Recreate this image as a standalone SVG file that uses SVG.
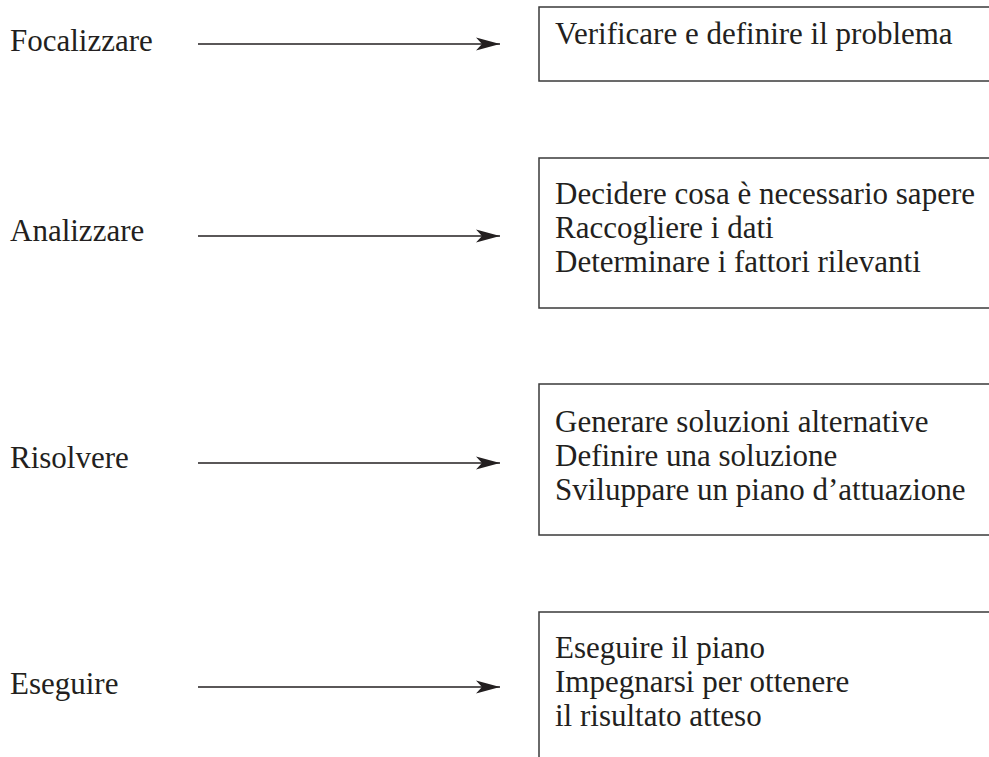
<svg xmlns="http://www.w3.org/2000/svg" width="989" height="757" viewBox="0 0 989 757">
<defs>
<style>
text{font-family:"Liberation Serif","Times New Roman",serif;font-size:31px;fill:#231f20}
.box{fill:none;stroke:#3a3a3a;stroke-width:1.5}
.conn{stroke:#231f20;stroke-width:1.6;fill:none}
</style>
<marker id="ah" markerWidth="26" markerHeight="16" refX="24" refY="8" orient="auto" markerUnits="userSpaceOnUse">
<path d="M0,1.5 L24,8 L0,14.5 L6,8 Z" fill="#231f20"/>
</marker>
</defs>
<rect width="989" height="757" fill="#fff"/>
<g id="connectors">
<line class="conn" x1="198" y1="44" x2="500" y2="44" marker-end="url(#ah)"/>
<line class="conn" x1="198" y1="236" x2="500" y2="236" marker-end="url(#ah)"/>
<line class="conn" x1="198" y1="463" x2="500" y2="463" marker-end="url(#ah)"/>
<line class="conn" x1="198" y1="687" x2="500" y2="687" marker-end="url(#ah)"/>
</g>
<g id="focalizzare"><text x="10" y="51">Focalizzare</text></g>
<g id="analizzare"><text x="10" y="241">Analizzare</text></g>
<g id="risolvere"><text x="10" y="468">Risolvere</text></g>
<g id="eseguire"><text x="10" y="694">Eseguire</text></g>
<g id="box1">
<rect class="box" x="539" y="7" width="460" height="74"/>
<text x="555" y="44">Verificare e definire il problema</text>
</g>
<g id="box2">
<rect class="box" x="539" y="158" width="460" height="150"/>
<text x="555" y="204">Decidere cosa è necessario sapere</text>
<text x="555" y="238">Raccogliere i dati</text>
<text x="555" y="272">Determinare i fattori rilevanti</text>
</g>
<g id="box3">
<rect class="box" x="539" y="384" width="460" height="151"/>
<text x="555" y="432">Generare soluzioni alternative</text>
<text x="555" y="466">Definire una soluzione</text>
<text x="555" y="500">Sviluppare un piano d’attuazione</text>
</g>
<g id="box4">
<rect class="box" x="539" y="612" width="460" height="160"/>
<text x="555" y="658">Eseguire il piano</text>
<text x="555" y="692">Impegnarsi per ottenere</text>
<text x="555" y="726">il risultato atteso</text>
</g>
</svg>
